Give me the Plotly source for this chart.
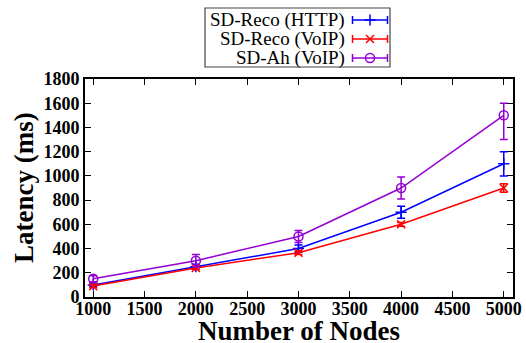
import plotly.graph_objects as go

# ---- data ----
nodes = [1000, 2000, 3000, 4000, 5000]
reco_http = [100, 250, 400, 700, 1100]
reco_http_err = [15, 20, 30, 50, 100]
reco_voip = [90, 240, 365, 600, 900]
reco_voip_err = [12, 12, 15, 15, 35]
ah_voip = [150, 300, 500, 900, 1500]
ah_voip_err_plus = [25, 50, 50, 90, 100]
ah_voip_err_minus = [25, 50, 50, 90, 200]

series_names = ["SD-Reco (HTTP)", "SD-Reco (VoIP)", "SD-Ah (VoIP)"]
colors = ["#0000ff", "#ff0000", "#9400d3"]
symbols = ["cross-thin-open", "x-thin-open", "circle-open"]

x_ticks = [1000, 1500, 2000, 2500, 3000, 3500, 4000, 4500, 5000]
y_ticks = [0, 200, 400, 600, 800, 1000, 1200, 1400, 1600, 1800]

W, H = 526, 343
ML, MR, MT, MB = 85, 13, 5, 46
plot_h = H - MT - MB
plot_w = W - ML - MR

def py(pix):  # pixel y -> paper y
    return (H - MB - pix) / plot_h

def px(pix):
    return (pix - ML) / plot_w

fig = go.Figure()

ys = [reco_http, reco_voip, ah_voip]
errp = [reco_http_err, reco_voip_err, ah_voip_err_plus]
errm = [reco_http_err, reco_voip_err, ah_voip_err_minus]

for i in range(3):
    fig.add_trace(go.Scatter(
        x=nodes, y=ys[i], mode="lines+markers", name=series_names[i],
        line=dict(color=colors[i], width=1.5),
        marker=dict(symbol=symbols[i], size=9 if i == 2 else 8,
                    color=colors[i], line=dict(color=colors[i], width=1.5)),
        error_y=dict(type="data", array=errp[i], arrayminus=errm[i],
                     symmetric=False, color=colors[i], thickness=1.5, width=4),
        showlegend=False, xaxis="x", yaxis="y",
    ))

# legend samples (custom legend drawn in an auxiliary axis)
rows = [12, 31, 50]
for i in range(3):
    fig.add_trace(go.Scatter(
        x=[165], y=[rows[i]], mode="markers",
        marker=dict(symbol=symbols[i], size=9 if i == 2 else 8,
                    color=colors[i], line=dict(color=colors[i], width=1.5)),
        error_x=dict(type="data", array=[17.5], color=colors[i], thickness=1.5, width=4),
        showlegend=False, xaxis="x2", yaxis="y2", hoverinfo="skip",
    ))
    fig.add_annotation(x=142, y=rows[i], xref="x2", yref="y2", text=series_names[i],
                       showarrow=False, xanchor="right", yanchor="middle",
                       font=dict(family="Liberation Serif", size=19, color="black"))

fig.add_shape(type="rect", xref="x2 domain", yref="y2 domain", x0=0, x1=1, y0=0, y1=1,
              line=dict(color="#444444", width=1.2))

tickfont = dict(family="Liberation Serif", size=18, color="black", weight="bold")

fig.update_layout(
    width=W, height=H,
    margin=dict(l=ML, r=MR, t=MT, b=MB, autoexpand=False),
    paper_bgcolor="white", plot_bgcolor="white",
    xaxis=dict(range=[920, 5090], tickvals=x_ticks, ticks="inside", ticklen=6,
               tickwidth=1.2, tickcolor="black", mirror="ticks", showline=True,
               linecolor="black", linewidth=2, showgrid=False, zeroline=False,
               tickfont=tickfont, domain=[0, 1], anchor="y", automargin=False,
               ticklabelstandoff=-6),
    yaxis=dict(range=[0, 1800], tickvals=y_ticks, ticks="inside", ticklen=6,
               tickwidth=1.2, tickcolor="black", mirror="ticks", showline=True,
               linecolor="black", linewidth=2, showgrid=False, zeroline=False,
               tickfont=tickfont, domain=[0, py(79)], anchor="x", automargin=False),
    xaxis2=dict(range=[0, 185], visible=False, domain=[px(205), px(390)], anchor="y2",
                fixedrange=True),
    yaxis2=dict(range=[59, 0], visible=False, domain=[py(67), py(8)], anchor="x2",
                fixedrange=True),
)

fig.add_annotation(x=0.5, y=py(331), xref="paper", yref="paper", text="Number of Nodes",
                   showarrow=False, xanchor="center", yanchor="middle",
                   font=dict(family="Liberation Serif", size=27, color="black", weight="bold"))
fig.add_annotation(x=px(24), y=py(188), xref="paper", yref="paper", text="Latency (ms)",
                   showarrow=False, xanchor="center", yanchor="middle", textangle=-90,
                   font=dict(family="Liberation Serif", size=27, color="black", weight="bold"))

fig.write_html("out.html")
